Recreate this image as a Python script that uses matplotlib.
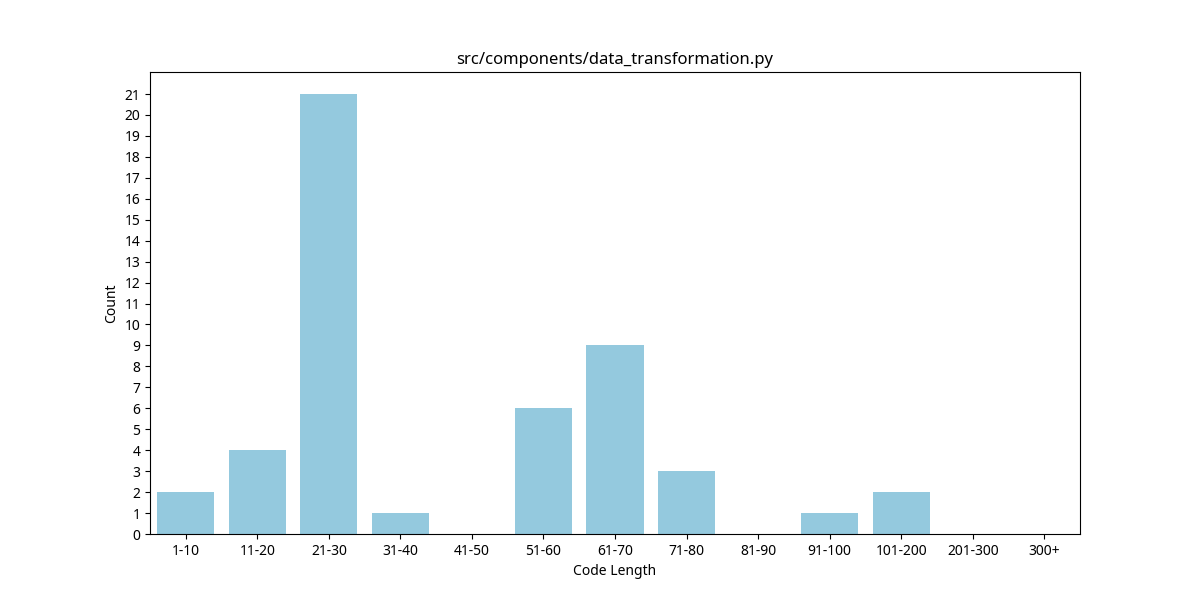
import matplotlib
matplotlib.use("Agg")
import matplotlib.pyplot as plt
import seaborn as sns

categories = ["1-10","11-20","21-30","31-40","41-50","51-60","61-70","71-80","81-90","91-100","101-200","201-300","300+"]
counts = [2,4,21,1,0,6,9,3,0,1,2,0,0]

plt.rcParams['font.family'] = ['Noto Sans', 'DejaVu Sans']
fig, ax = plt.subplots(figsize=(12, 6), dpi=100)
sns.barplot(x=categories, y=counts, color="skyblue", ax=ax)
ax.set_yticks(range(0, 22))
ax.set_ylim(0, 21 * 1.05)
ax.set_xlabel("Code Length")
ax.set_ylabel("Count")
ax.set_title("src/components/data_transformation.py")
fig.savefig("out.png")
